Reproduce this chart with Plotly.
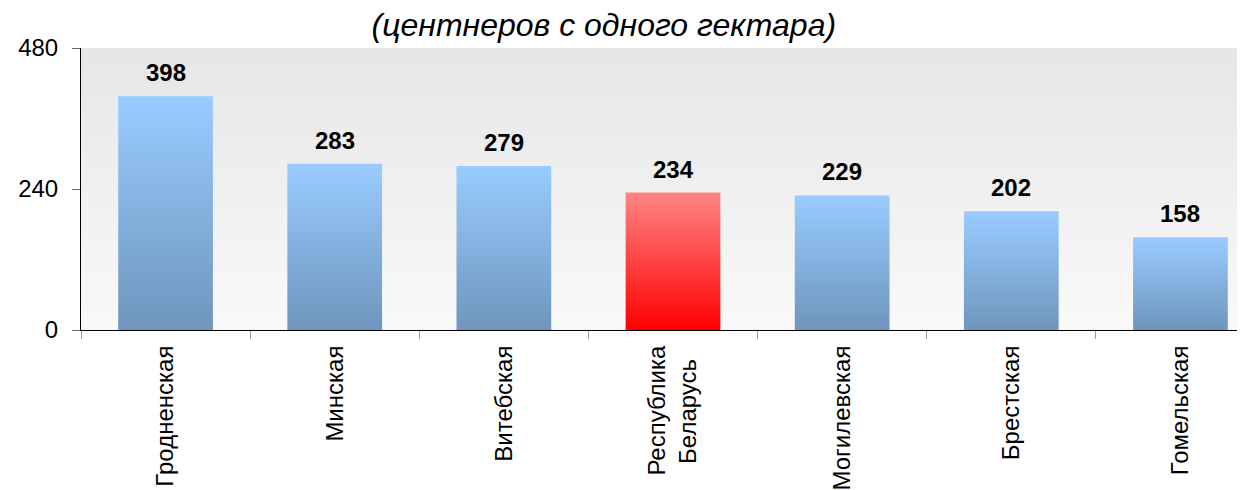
import plotly.graph_objects as go

# Données
regions = ["Гродненская", "Минская", "Витебская", "Республика<br>Беларусь\u00a0\u00a0",
           "Могилевская", "Брестская", "Гомельская"]
valeurs = [398, 283, 279, 234, 229, 202, 158]
y_ticks = [0, 240, 480]

largeur = 0.56
bleu = [[0, "#6f95bd"], [1, "#99ccff"]]
rouge = [[0, "#ff0000"], [1, "#ff8585"]]

fig = go.Figure()

# fond dégradé de la zone de tracé
fig.add_trace(go.Scatter(
    x=[-0.5, 6.5, 6.5, -0.5, -0.5], y=[0, 0, 480, 480, 0],
    mode="lines", line=dict(width=0), fill="toself",
    fillgradient=dict(type="vertical", colorscale=[[0, "#f9f9f9"], [1, "#e6e6e6"]]),
    hoverinfo="skip", showlegend=False))

# barres avec dégradé
for i, v in enumerate(valeurs):
    x0, x1 = i - largeur / 2, i + largeur / 2
    fig.add_trace(go.Scatter(
        x=[x0, x1, x1, x0, x0], y=[0, 0, v, v, 0],
        mode="lines", line=dict(width=0), fill="toself",
        fillgradient=dict(type="vertical", colorscale=rouge if i == 3 else bleu),
        hoverinfo="skip", showlegend=False))
    fig.add_annotation(x=i, y=v, text="<b>%d</b>" % v, showarrow=False,
                       yanchor="bottom", yshift=8,
                       font=dict(size=24, color="#000000"))

# la page ajoute 8px de marge ; la zone de tracé dépasse un peu à droite
fig.update_layout(
    width=1257, height=482,
    margin=dict(l=73, r=0, t=40, b=160),
    paper_bgcolor="white", plot_bgcolor="white",
    font=dict(family="Arial, Liberation Sans, sans-serif", color="#000000"),
    title=dict(text="<i>(центнеров с одного гектара)</i>", x=0.474, xanchor="center",
               y=0.965, yanchor="middle", font=dict(size=32)),
    showlegend=False,
    xaxis=dict(range=[-0.5, 6.5], tickmode="array", tickvals=list(range(7)),
               ticktext=regions, tickangle=-90, ticks="", showgrid=False,
               zeroline=False, showline=True, linecolor="#000000", linewidth=1,
               tickfont=dict(size=24), automargin=False, ticklabelstandoff=5,
               minor=dict(tickmode="array", tickvals=[k + 0.5 for k in range(-1, 7)],
                          ticks="outside", ticklen=8, tickcolor="#999999", tickwidth=1)),
    yaxis=dict(range=[0, 480], tickmode="array", tickvals=y_ticks,
               ticks="outside", ticklen=8, tickcolor="#666666", showgrid=False,
               zeroline=False, showline=True, linecolor="#000000", linewidth=1,
               tickfont=dict(size=24), automargin=False, ticklabelstandoff=9),
)

fig.write_html("out.html")
